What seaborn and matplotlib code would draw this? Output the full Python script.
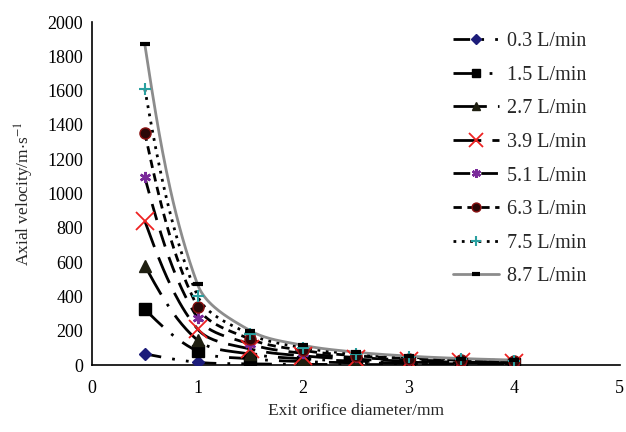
import numpy as np
import pandas as pd
import matplotlib
matplotlib.use("Agg")
import matplotlib.pyplot as plt
import seaborn as sns
from matplotlib.lines import Line2D

# data
diameters = [0.5, 1.0, 1.5, 2.0, 2.5, 3.0, 3.5, 4.0]
flowLabels = ['0.3 L/min', '1.5 L/min', '2.7 L/min', '3.9 L/min',
              '5.1 L/min', '6.3 L/min', '7.5 L/min', '8.7 L/min']

v03 = [65, 16, 7, 4, 3, 2, 1, 1]
v15 = [325, 81, 36, 20, 13, 9, 7, 5]
v27 = [580, 145, 64, 36, 23, 16, 12, 9]
v39 = [840, 210, 93, 53, 34, 23, 17, 13]
v51 = [1095, 274, 122, 68, 44, 30, 22, 17]
v63 = [1355, 339, 151, 85, 54, 38, 28, 21]
v75 = [1610, 403, 179, 101, 64, 45, 33, 25]
v87 = [1870, 470, 200, 115, 75, 52, 38, 29]

allSeries = [v03, v15, v27, v39, v51, v63, v75, v87]

styles = [
    dict(ls=(0, (6, 4, 1, 4, 1, 4)), color='black', lw=2.0, marker='D', ms=6, mfc='#1c1c7a', mec='#1c1c7a', mew=1),
    dict(ls=(0, (9, 4, 1, 4)), color='black', lw=2.0, marker='s', ms=8, mfc='black', mec='black', mew=1),
    dict(ls=(0, (12, 4, 1, 4)), color='black', lw=2.0, marker='^', ms=8, mfc='#1e1e10', mec='#1e1e10', mew=1),
    dict(ls=(0, (10, 4)), color='black', lw=2.0, marker='x', ms=13, mfc='#ee2222', mec='#ee2222', mew=1.3),
    dict(ls=(0, (6, 4)), color='black', lw=2.0, marker=(6, 2, 0), ms=8, mfc='#7a2a9a', mec='#7a2a9a', mew=1.8),
    dict(ls=(0, (3, 2)), color='black', lw=2.0, marker='o', ms=8, mfc='#2a0808', mec='#8a1010', mew=1),
    dict(ls=(0, (1, 2)), color='black', lw=2.0, marker='+', ms=9, mfc='#2aa0a0', mec='#2aa0a0', mew=1.5),
    dict(ls='-', color='#8c8c8c', lw=2.0, marker='_', ms=7, mfc='black', mec='black', mew=3),
]


def smoothCurve(xs, ys, sx, sy, n=40):
    # smoothed line like the spreadsheet one: chord-scaled tangents, natural ends
    pts = np.column_stack([np.array(xs) * sx, np.array(ys) * sy])
    k = len(pts)
    d = np.linalg.norm(np.diff(pts, axis=0), axis=1)
    cOut = [None] * k
    cIn = [None] * k
    for i in range(1, k - 1):
        m = pts[i + 1] - pts[i - 1]
        tot = d[i - 1] + d[i]
        cOut[i] = pts[i] + m * d[i] / (3 * tot)
        cIn[i] = pts[i] - m * d[i - 1] / (3 * tot)
    cOut[0] = pts[0] + (cIn[1] - pts[0]) / 2
    cIn[k - 1] = pts[k - 1] + (cOut[k - 2] - pts[k - 1]) / 2
    out = []
    t = np.linspace(0, 1, n)[:, None]
    for i in range(k - 1):
        p1, c1, c2, p2 = pts[i], cOut[i], cIn[i + 1], pts[i + 1]
        seg = ((1 - t) ** 3) * p1 + 3 * ((1 - t) ** 2) * t * c1 + 3 * (1 - t) * t ** 2 * c2 + t ** 3 * p2
        out.append(seg if i == 0 else seg[1:])
    out = np.vstack(out)
    return out[:, 0] / sx, out[:, 1] / sy


sns.set_style("white")
plt.rcParams['font.family'] = ['Liberation Serif', 'DejaVu Serif']
plt.rcParams['mathtext.fontset'] = 'stix'

fig = plt.figure(figsize=(6.26, 4.32), dpi=100)
ax = fig.add_axes([0.147, 0.155, 0.843, 0.794])

handles = []
for vals, st, lab in zip(allSeries, styles, flowLabels):
    sxs, sys_ = smoothCurve(diameters, vals, 105.6, 0.1715)
    df = pd.DataFrame({'d': sxs, 'v': sys_})
    sns.lineplot(data=df, x='d', y='v', ax=ax, sort=False, estimator=None,
                 color=st['color'], lw=st['lw'], linestyle=st['ls'])
    ax.plot(diameters, vals, ls='none', marker=st['marker'], ms=st['ms'],
            mfc=st['mfc'], mec=st['mec'], mew=st['mew'], zorder=3)
    handles.append(Line2D([], [], color=st['color'], lw=st['lw'], ls=st['ls'],
                          marker=st['marker'], ms=st['ms'] * 0.8, mfc=st['mfc'],
                          mec=st['mec'], mew=st['mew'], label=lab))

ax.set_xlim(0, 5)
ax.set_ylim(0, 2000)
ax.set_xticks(range(0, 6))
ax.set_yticks(range(0, 2001, 200))
ax.tick_params(axis='both', direction='in', length=4, width=1, labelsize=13, colors='black')
ax.tick_params(axis='x', pad=11)
ax.tick_params(axis='y', pad=6.5)
for side in ['top', 'right']:
    ax.spines[side].set_visible(False)
for side in ['left', 'bottom']:
    ax.spines[side].set_color('black')
    ax.spines[side].set_linewidth(1.2)

ax.set_xlabel('Exit orifice diameter/mm', fontsize=12.5, labelpad=4)
ax.set_ylabel('Axial velocity/m$\\cdot$s$^{-1}$', fontsize=12.5, labelpad=8)

fig.legend(handles=handles, loc='upper left', bbox_to_anchor=(447 / 626, 1 - 26 / 432),
           frameon=False, fontsize=14.5, handlelength=2.3, labelspacing=0.72,
           handletextpad=0.4, borderaxespad=0, borderpad=0.3)

fig.savefig('out.png', dpi=100)
